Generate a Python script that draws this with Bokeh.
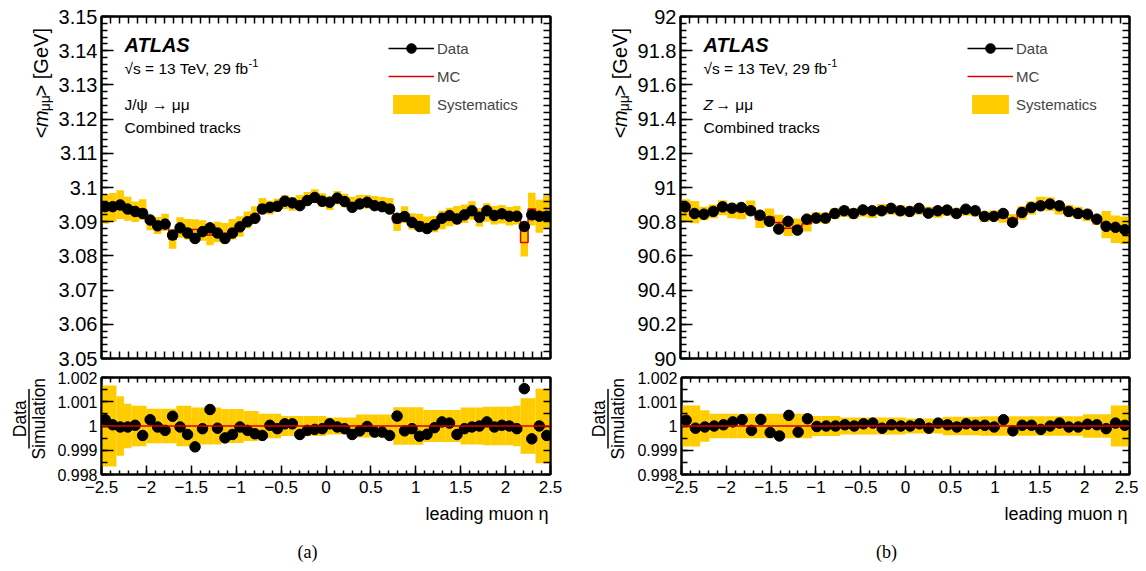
import numpy as np
from bokeh.plotting import figure
from bokeh.layouts import row, column
from bokeh.models import (Range1d, FixedTicker, LinearAxis, Label, Legend, LegendItem,
                          Span, Arrow, CustomJSTickFormatter)
from bokeh.embed import file_html
from bokeh.resources import INLINE

ETA_RANGE = (-2.5, 2.5)

# ---------------- (a) J/psi -> mu mu ----------------
jpsi_data = [3.0944, 3.0944, 3.0949, 3.0937, 3.0930, 3.0924, 3.0905, 3.0888, 3.0893, 3.0861,
             3.0882, 3.0867, 3.0851, 3.0871, 3.0882, 3.0867, 3.0851, 3.0867, 3.0885, 3.0900,
             3.0910, 3.0937, 3.0942, 3.0945, 3.0960, 3.0955, 3.0947, 3.0962, 3.0971, 3.0960,
             3.0957, 3.0969, 3.0959, 3.0942, 3.0952, 3.0957, 3.0947, 3.0944, 3.0937, 3.0910,
             3.0915, 3.0898, 3.0886, 3.0880, 3.0891, 3.0910, 3.0918, 3.0908, 3.0920, 3.0932,
             3.0913, 3.0932, 3.0918, 3.0923, 3.0916, 3.0916, 3.0886, 3.0920, 3.0916, 3.0916]
jpsi_mc = [3.0936, 3.0942, 3.0950, 3.0938, 3.0929, 3.0936, 3.0897, 3.0889, 3.0898, 3.0849,
           3.0883, 3.0878, 3.0877, 3.0874, 3.0861, 3.0870, 3.0866, 3.0878, 3.0886, 3.0905,
           3.0920, 3.0949, 3.0941, 3.0948, 3.0957, 3.0952, 3.0958, 3.0967, 3.0975, 3.0963,
           3.0954, 3.0970, 3.0962, 3.0953, 3.0958, 3.0958, 3.0955, 3.0952, 3.0949, 3.0897,
           3.0921, 3.0901, 3.0899, 3.0891, 3.0893, 3.0905, 3.0914, 3.0919, 3.0923, 3.0933,
           3.0913, 3.0927, 3.0919, 3.0922, 3.0916, 3.0919, 3.0839, 3.0937, 3.0916, 3.0928]
jpsi_syst = [0.0042, 0.0042, 0.0042, 0.0035, 0.0030, 0.0030, 0.0022, 0.0025, 0.0025, 0.0028,
             0.0030, 0.0030, 0.0030, 0.0030, 0.0030, 0.0030, 0.0030, 0.0030, 0.0030, 0.0025,
             0.0025, 0.0020, 0.0020, 0.0020, 0.0020, 0.0020, 0.0020, 0.0020, 0.0020, 0.0020,
             0.0020, 0.0020, 0.0020, 0.0020, 0.0020, 0.0020, 0.0020, 0.0020, 0.0020, 0.0024,
             0.0024, 0.0024, 0.0024, 0.0024, 0.0024, 0.0027, 0.0027, 0.0027, 0.0027, 0.0027,
             0.0027, 0.0027, 0.0027, 0.0027, 0.0027, 0.0027, 0.0041, 0.0048, 0.0048, 0.0048]
jpsi_ratio = [1.00026, 1.00005, 0.99996, 0.99996, 1.00003, 0.99961, 1.00026, 0.99996, 0.99982, 1.00040,
              0.99996, 0.99965, 0.99914, 0.99989, 1.00068, 0.99991, 0.99951, 0.99965, 0.99996, 0.99982,
              0.99968, 0.99961, 1.00003, 0.99989, 1.00009, 1.00009, 0.99965, 0.99982, 0.99986, 0.99989,
              1.00009, 0.99996, 0.99989, 0.99965, 0.99980, 0.99998, 0.99975, 0.99975, 0.99961, 1.00041,
              0.99980, 0.99989, 0.99958, 0.99966, 0.99993, 1.00017, 1.00012, 0.99965, 0.99989, 0.99996,
              1.00000, 1.00017, 0.99996, 1.00003, 1.00000, 0.99989, 1.00154, 0.99947, 1.00000, 0.99961]
jpsi_ratio_syst = [0.00167, 0.00167, 0.00123, 0.00092, 0.00083, 0.00083, 0.00071, 0.00071, 0.00071, 0.00071,
                   0.00083, 0.00083, 0.00076, 0.00076, 0.00076, 0.00076, 0.00070, 0.00070, 0.00070, 0.00062,
                   0.00062, 0.00051, 0.00051, 0.00051, 0.00041, 0.00041, 0.00041, 0.00041, 0.00041, 0.00041,
                   0.00035, 0.00035, 0.00035, 0.00035, 0.00047, 0.00047, 0.00047, 0.00047, 0.00047, 0.00077,
                   0.00077, 0.00077, 0.00077, 0.00066, 0.00066, 0.00066, 0.00066, 0.00066, 0.00076, 0.00076,
                   0.00076, 0.00079, 0.00079, 0.00079, 0.00079, 0.00084, 0.00114, 0.00114, 0.00154, 0.00154]

# ---------------- (b) Z -> mu mu ----------------
z_data = [90.887, 90.848, 90.844, 90.860, 90.887, 90.879, 90.883, 90.864, 90.838, 90.802,
          90.757, 90.802, 90.751, 90.815, 90.821, 90.821, 90.848, 90.864, 90.848, 90.869,
          90.864, 90.864, 90.878, 90.864, 90.860, 90.878, 90.850, 90.864, 90.868, 90.848,
          90.873, 90.864, 90.831, 90.831, 90.848, 90.796, 90.854, 90.883, 90.893, 90.903,
          90.893, 90.860, 90.848, 90.844, 90.815, 90.773, 90.767, 90.753]
z_mc = [90.866, 90.856, 90.848, 90.860, 90.882, 90.864, 90.859, 90.880, 90.813, 90.827,
        90.795, 90.762, 90.773, 90.788, 90.823, 90.821, 90.848, 90.860, 90.848, 90.861,
        90.853, 90.872, 90.873, 90.864, 90.860, 90.870, 90.858, 90.853, 90.864, 90.852,
        90.865, 90.861, 90.828, 90.835, 90.824, 90.815, 90.851, 90.880, 90.906, 90.903,
        90.882, 90.864, 90.852, 90.838, 90.811, 90.783, 90.756, 90.750]
z_syst = [0.065, 0.065, 0.040, 0.040, 0.044, 0.044, 0.044, 0.044, 0.050, 0.050,
          0.045, 0.045, 0.045, 0.045, 0.032, 0.032, 0.032, 0.032, 0.032, 0.032,
          0.032, 0.032, 0.032, 0.032, 0.030, 0.030, 0.030, 0.030, 0.030, 0.030,
          0.030, 0.030, 0.030, 0.030, 0.030, 0.030, 0.040, 0.040, 0.040, 0.040,
          0.040, 0.035, 0.035, 0.035, 0.030, 0.080, 0.080, 0.080]
z_ratio = [1.00024, 0.99991, 0.99996, 1.00000, 1.00005, 1.00017, 1.00026, 0.99982, 1.00027, 0.99973,
           0.99959, 1.00044, 0.99975, 1.00030, 0.99998, 1.00000, 1.00000, 1.00005, 1.00000, 1.00009,
           1.00012, 0.99991, 1.00005, 1.00000, 1.00000, 1.00009, 0.99991, 1.00012, 1.00005, 0.99996,
           1.00009, 1.00003, 1.00003, 0.99996, 1.00026, 0.99980, 1.00003, 1.00003, 0.99986, 1.00000,
           1.00012, 0.99996, 0.99996, 1.00007, 1.00005, 0.99989, 1.00012, 1.00003]
z_ratio_syst = [0.00085, 0.00085, 0.00065, 0.00051, 0.00051, 0.00051, 0.00051, 0.00051, 0.00051, 0.00051,
                0.00051, 0.00051, 0.00051, 0.00051, 0.00041, 0.00041, 0.00041, 0.00035, 0.00035, 0.00035,
                0.00035, 0.00035, 0.00035, 0.00035, 0.00031, 0.00031, 0.00031, 0.00031, 0.00038, 0.00038,
                0.00038, 0.00038, 0.00040, 0.00040, 0.00040, 0.00040, 0.00040, 0.00040, 0.00040, 0.00040,
                0.00040, 0.00040, 0.00040, 0.00048, 0.00048, 0.00048, 0.00085, 0.00085]

# ---------------- ticks ----------------
x_ticks = [-2.5, -2, -1.5, -1, -0.5, 0, 0.5, 1, 1.5, 2, 2.5]
jpsi_y_ticks = [3.05, 3.06, 3.07, 3.08, 3.09, 3.1, 3.11, 3.12, 3.13, 3.14, 3.15]
z_y_ticks = [90, 90.2, 90.4, 90.6, 90.8, 91, 91.2, 91.4, 91.6, 91.8, 92]
ratio_y_ticks = [0.998, 0.999, 1, 1.001, 1.002]

FONT = "Liberation Sans"
SERIF = "Liberation Serif"
YELLOW = "#ffcc00"
RED = "#dd0000"
FW = 449          # frame width
MAIN_H = 342      # main frame height
RAT_H = 97        # ratio frame height
G = 54            # gutter width for the rotated y titles
RAT_RANGE = (0.998, 1.002)

FMT_CODE = """
var s = parseFloat(tick.toFixed(6)).toString();
return s.replace('-', '\u2212');
"""


def minor_between(major, sub):
    out = []
    for a, b in zip(major[:-1], major[1:]):
        step = (b - a) / sub
        out += [round(a + k * step, 6) for k in range(sub)]
    out.append(major[-1])
    return out


def style_axis(ax, major, minor, tick_len, show_labels, font_size="17px", standoff=5):
    ax.axis_line_color = "black"
    ax.axis_line_width = 2
    ax.major_tick_line_color = "black"
    ax.major_tick_line_width = 1.5
    ax.minor_tick_line_color = "black"
    ax.minor_tick_line_width = 1.5
    ax.major_tick_out = 0
    ax.minor_tick_out = 0
    if show_labels:
        ax.ticker = FixedTicker(ticks=major, minor_ticks=minor)
        ax.major_tick_in = tick_len
        ax.minor_tick_in = tick_len // 2
        ax.formatter = CustomJSTickFormatter(code=FMT_CODE)
        ax.major_label_text_font = FONT
        ax.major_label_text_font_size = font_size
        ax.major_label_text_color = "black"
        ax.major_label_standoff = standoff
    else:
        # tick marks only (no labels): all marks drawn as minor ticks
        ax.ticker = FixedTicker(ticks=[], minor_ticks=sorted(set(major) | set(minor)))
        ax.minor_tick_in = tick_len
        ax.major_label_standoff = 0


def add_label(fig, x, y, dx, dy, text, size, style="normal", align="left",
              baseline="middle", angle=0.0, font=FONT):
    fig.add_layout(Label(x=x, y=y, x_offset=dx, y_offset=dy, text=text, text_font=font,
                         text_font_size=size, text_font_style=style, text_align=align,
                         text_baseline=baseline, angle=angle, text_color="black"))


def blank_fig(w, h):
    f = figure(width=w, height=h, x_range=Range1d(0, w), y_range=Range1d(0, h),
               output_backend="svg", toolbar_location=None,
               x_axis_location=None, y_axis_location=None,
               min_border=0, min_border_left=0, min_border_right=0,
               min_border_top=0, min_border_bottom=0,
               outline_line_color=None, background_fill_color="white",
               border_fill_color="white")
    f.grid.visible = False
    return f


def build_panel(data, mc, syst, ratio, rsyst, y_major, y_sub, bl, br, process, caption):
    n = len(data)
    edges = np.linspace(ETA_RANGE[0], ETA_RANGE[1], n + 1)
    centers = 0.5 * (edges[:-1] + edges[1:])
    data = np.array(data)
    mc = np.array(mc)
    syst = np.array(syst)
    ratio = np.array(ratio)
    rsyst = np.array(rsyst)
    x_minor = minor_between(x_ticks, 5)
    y_minor = minor_between(y_major, y_sub)
    ytop = y_major[-1]
    x0 = ETA_RANGE[0]
    fig_w = bl + FW + br
    fl = G + bl                      # frame left, relative to the panel's left edge

    # ---------------- main panel ----------------
    main_h = 16 + MAIN_H + 10
    main = figure(width=fig_w, height=main_h,
                  x_range=Range1d(*ETA_RANGE), y_range=Range1d(y_major[0], y_major[-1]),
                  output_backend="svg", toolbar_location=None,
                  min_border_left=bl, min_border_right=br, min_border_top=16, min_border_bottom=10,
                  background_fill_color="white", border_fill_color="white",
                  outline_line_color="black", outline_line_width=2)
    main.xgrid.visible = False
    main.ygrid.visible = False
    main.add_layout(LinearAxis(), "above")
    main.add_layout(LinearAxis(), "right")
    style_axis(main.below[0], x_ticks, x_minor, 7, False)
    style_axis(main.above[0], x_ticks, x_minor, 7, False)
    style_axis(main.left[0], y_major, y_minor, 12, True, "20px", 4)
    style_axis(main.right[0], y_major, y_minor, 7, False)

    band = main.quad(left=edges[:-1], right=edges[1:], bottom=mc - syst, top=mc + syst,
                     fill_color=YELLOW, line_color=None)
    mc_r = main.step(x=edges, y=np.append(mc, mc[-1]), mode="after",
                     line_color=RED, line_width=1.5)
    xerr = main.segment(x0=edges[:-1], y0=data, x1=edges[1:], y1=data,
                        line_color="black", line_width=1.5)
    dat = main.scatter(centers, data, size=10.5, color="black")

    legend = Legend(items=[LegendItem(label="Data", renderers=[xerr, dat]),
                           LegendItem(label="MC", renderers=[mc_r]),
                           LegendItem(label="Systematics", renderers=[band])],
                    location=(287, 242), glyph_width=46, glyph_height=24, label_height=24,
                    spacing=4, label_standoff=3, label_text_font=FONT,
                    label_text_font_size="15px", padding=0, margin=0,
                    background_fill_alpha=0, border_line_alpha=0)
    main.add_layout(legend)

    # texts (vertical centres measured from the frame top)
    add_label(main, x0, ytop, 23, -28, "ATLAS", "20px", style="bold italic")
    add_label(main, x0, ytop, 23, -52, "\u221as = 13 TeV, 29 fb", "15.5px")
    add_label(main, x0, ytop, 147, -46, "-1", "11px")
    if process == "jpsi":
        add_label(main, x0, ytop, 23, -88, "J/\u03c8 \u2192   \u03bc\u03bc", "15.5px")
    else:
        add_label(main, x0, ytop, 23, -88, "Z", "15.5px", style="italic")
        add_label(main, x0, ytop, 35, -88, "\u2192   \u03bc\u03bc", "15.5px")
    add_label(main, x0, ytop, 23, -111, "Combined tracks", "15.5px")

    # gutter with the rotated title  <m_mumu> [GeV]
    a = np.pi / 2
    gm = blank_fig(G, main_h)
    bx = fl - 61
    add_label(gm, bx, main_h - 131, 0, 0, "<", "20px", angle=a)
    add_label(gm, bx, main_h - 119, 0, 0, "m", "20px", style="italic", angle=a)
    add_label(gm, bx + 4, main_h - 102, 0, 0, "\u03bc\u03bc", "14px", angle=a)
    add_label(gm, bx, main_h - 86, 0, 0, "> [GeV]", "20px", angle=a)

    # ---------------- ratio panel ----------------
    rat_top = 9
    rat_bot = 28
    rat_h = rat_top + RAT_H + rat_bot
    rat = figure(width=fig_w, height=rat_h,
                 x_range=main.x_range, y_range=Range1d(*RAT_RANGE),
                 output_backend="svg", toolbar_location=None,
                 min_border_left=bl, min_border_right=br, min_border_top=rat_top,
                 min_border_bottom=rat_bot,
                 background_fill_color="white", border_fill_color="white",
                 outline_line_color="black", outline_line_width=2)
    rat.xgrid.visible = False
    rat.ygrid.visible = False
    rat.add_layout(LinearAxis(), "above")
    rat.add_layout(LinearAxis(), "right")
    style_axis(rat.below[0], x_ticks, x_minor, 9, True, "17px", 6)
    style_axis(rat.above[0], x_ticks, x_minor, 5, False)
    r_minor = minor_between(ratio_y_ticks, 2)
    style_axis(rat.left[0], ratio_y_ticks, r_minor, 12, True, "16px", 4)
    style_axis(rat.right[0], ratio_y_ticks, r_minor, 7, False)

    rat.quad(left=edges[:-1], right=edges[1:], bottom=1 - rsyst, top=1 + rsyst,
             fill_color=YELLOW, line_color=None)
    rat.add_layout(Span(location=1.0, dimension="width", line_color=RED, line_width=1.5))
    rat.scatter(centers, ratio, size=10.5, color="black")

    # gutter with the rotated Data / Simulation title
    gr = blank_fig(G, rat_h)
    fb = rat_top + RAT_H             # frame bottom (from the top of this row)
    yc = rat_h - (fb - 49)           # centre of the title
    add_label(gr, fl - 82, yc, 0, 0, "Data", "17.5px", align="center", angle=a)
    add_label(gr, fl - 62.5, yc, 0, 0, "Simulation", "17.5px", align="center", angle=a)
    gr.add_layout(Arrow(start=None, end=None, x_start=fl - 72.5, x_end=fl - 72.5,
                        y_start=yc + 41, y_end=yc - 41,
                        line_color="black", line_width=1.5))

    # bottom strip: x title (right aligned) and caption
    bot_h = 63
    bot = blank_fig(G + fig_w, bot_h)
    add_label(bot, fl + FW - 2, bot_h - 11, 0, 0, "leading muon \u03b7", "18px", align="right")
    add_label(bot, fl + 206, 14, 0, 0, caption, "18px", align="center", font=SERIF)

    return column(row(gm, main), row(gr, rat), bot)


left = build_panel(jpsi_data, jpsi_mc, jpsi_syst, jpsi_ratio, jpsi_ratio_syst,
                   jpsi_y_ticks, 5, 47, 30, "jpsi", "(a)")
right = build_panel(z_data, z_mc, z_syst, z_ratio, z_ratio_syst,
                    z_y_ticks, 5, 46, 9, "z", "(b)")
layout = row(left, right)

open("out.html", "w").write(file_html(layout, INLINE))
